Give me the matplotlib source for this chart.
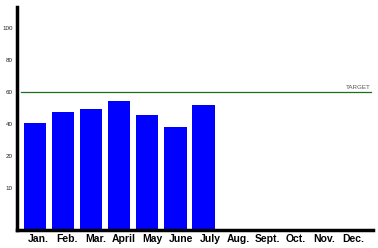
import numpy as np
import matplotlib.pyplot as plt

months = ['Jan.', 'Feb.', 'Mar.', 'April', 'May', 'June', 'July',
          'Aug.', 'Sept.', 'Oct.', 'Nov.', 'Dec.']
values = [40.5, 47.5, 49.5, 54.5, 45.5, 38, 52]
target = 60
ytick_pos = [0, 20, 40, 60, 80, 100]
ytick_labels = ['10', '20', '40', '60', '80', '100']

plt.rcParams['font.family'] = ['Liberation Sans', 'DejaVu Sans']

fig = plt.figure(figsize=(3.78, 2.48), dpi=100)
ax = fig.add_axes([17/378, 1 - 230/248, (373-17)/378, (230-7)/248])

ymin, ymax = -26, 113
x = np.arange(len(values))
base = ymin + 0.8
ax.bar(x, np.array(values) - base, bottom=base, width=0.79, color='#0000ff')

ax.plot([-0.5, 11.95], [target, target], color='#1e6e1e', lw=0.9)
ax.text(11.95, target + 1.5, 'TARGET', ha='right', va='bottom', fontsize=4.5, color='#555555')

ax.set_xlim(-0.64, 12.03)
ax.set_ylim(ymin, ymax)
# month labels are spaced a little wider than the bars
ax.set_xticks(0.107 + 1.0196 * np.arange(len(months)))
ax.set_xticklabels(months, fontsize=7.5, fontweight='bold')
ax.set_yticks(ytick_pos)
ax.set_yticklabels(ytick_labels, fontsize=4.5, color='#222222')
ax.tick_params(axis='both', length=0)
ax.tick_params(axis='x', pad=3)
ax.tick_params(axis='y', pad=3)

for s in ['top', 'right']:
    ax.spines[s].set_visible(False)
ax.spines['left'].set_linewidth(2.5)
ax.spines['bottom'].set_linewidth(2.5)

fig.savefig('out.png', dpi=100)
